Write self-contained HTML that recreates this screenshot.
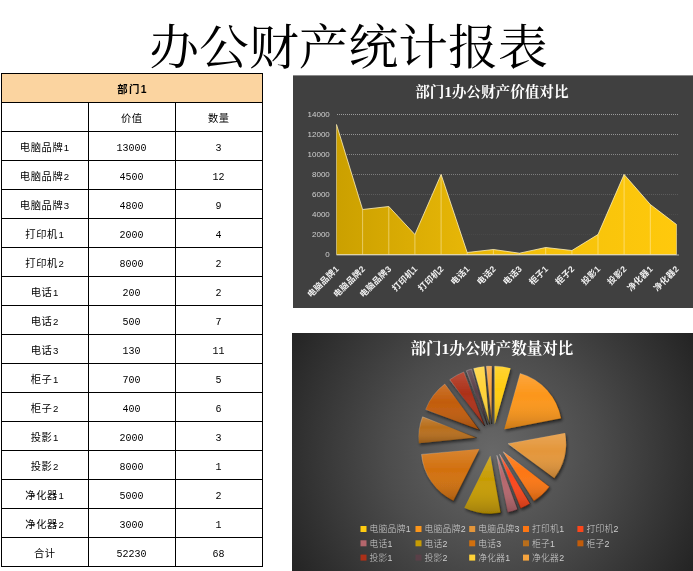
<!DOCTYPE html>
<html lang="zh-CN"><head><meta charset="utf-8"><title>办公财产统计报表</title>
<style>
html,body{margin:0;padding:0;background:#fff}
body{width:693px;height:571px;position:relative;overflow:hidden;font-family:"Liberation Sans","Noto Sans CJK SC",sans-serif}
.ttl{position:absolute;left:0;top:13px;width:697px;text-align:center;transform:scaleY(0.955);transform-origin:50% 50%;font-family:"Liberation Serif","Noto Serif CJK SC",serif;font-size:49.8px;line-height:72px;height:72px;color:#000;font-weight:400;white-space:nowrap}
.c{position:absolute;text-align:center;font-size:10.3px;letter-spacing:0.55px;font-weight:400;color:#000;padding:1.3px 0 0 0.6px;box-sizing:border-box;white-space:nowrap;overflow:hidden}
.c.n{font-family:"Liberation Mono",monospace;font-size:10px;letter-spacing:0;font-weight:400;padding:2.4px 0 0 0}
.c.b{font-weight:bold;font-size:10.4px;letter-spacing:1.3px;padding:0.5px 0 0 2px}
.d{font-size:9.6px;padding-left:0.6px}
.hd{position:absolute;background:#fbd4a0}
.l{position:absolute;background:#000}
.ch{position:absolute;display:block}
.ya{font-family:"Liberation Sans",sans-serif;font-size:8px;fill:#d0d0d0}
.xa{font-family:"Liberation Sans","Noto Sans CJK SC",sans-serif;font-size:8.6px;letter-spacing:0.3px;font-weight:bold;fill:#f0f0f0}
.t1{font-family:"Liberation Serif","Noto Serif CJK SC",serif;font-size:14.6px;font-weight:bold;fill:#fff}
.t2{font-family:"Liberation Serif","Noto Serif CJK SC",serif;font-size:15.5px;font-weight:bold;fill:#fff}
.lg{font-family:"Liberation Sans","Noto Sans CJK SC",sans-serif;font-size:8.8px;letter-spacing:0.25px;font-weight:300;fill:#cdcdcd}
</style></head><body>
<div class="ttl">办公财产统计报表</div>
<div class="hd" style="left:1px;top:73px;width:261px;height:29px"></div><div class="c b" style="left:1px;top:73px;width:261px;height:29px;line-height:32px">部门1</div><div class="c " style="left:88px;top:102px;width:87px;height:29px;line-height:32px">价值</div><div class="c " style="left:175px;top:102px;width:87px;height:29px;line-height:32px">数量</div><div class="c " style="left:1px;top:131px;width:87px;height:29px;line-height:32px">电脑品牌<span class="d">1</span></div><div class="c n" style="left:88px;top:131px;width:87px;height:29px;line-height:32px">13000</div><div class="c n" style="left:175px;top:131px;width:87px;height:29px;line-height:32px">3</div><div class="c " style="left:1px;top:160px;width:87px;height:29px;line-height:32px">电脑品牌<span class="d">2</span></div><div class="c n" style="left:88px;top:160px;width:87px;height:29px;line-height:32px">4500</div><div class="c n" style="left:175px;top:160px;width:87px;height:29px;line-height:32px">12</div><div class="c " style="left:1px;top:189px;width:87px;height:29px;line-height:32px">电脑品牌<span class="d">3</span></div><div class="c n" style="left:88px;top:189px;width:87px;height:29px;line-height:32px">4800</div><div class="c n" style="left:175px;top:189px;width:87px;height:29px;line-height:32px">9</div><div class="c " style="left:1px;top:218px;width:87px;height:29px;line-height:32px">打印机<span class="d">1</span></div><div class="c n" style="left:88px;top:218px;width:87px;height:29px;line-height:32px">2000</div><div class="c n" style="left:175px;top:218px;width:87px;height:29px;line-height:32px">4</div><div class="c " style="left:1px;top:247px;width:87px;height:29px;line-height:32px">打印机<span class="d">2</span></div><div class="c n" style="left:88px;top:247px;width:87px;height:29px;line-height:32px">8000</div><div class="c n" style="left:175px;top:247px;width:87px;height:29px;line-height:32px">2</div><div class="c " style="left:1px;top:276px;width:87px;height:29px;line-height:32px">电话<span class="d">1</span></div><div class="c n" style="left:88px;top:276px;width:87px;height:29px;line-height:32px">200</div><div class="c n" style="left:175px;top:276px;width:87px;height:29px;line-height:32px">2</div><div class="c " style="left:1px;top:305px;width:87px;height:29px;line-height:32px">电话<span class="d">2</span></div><div class="c n" style="left:88px;top:305px;width:87px;height:29px;line-height:32px">500</div><div class="c n" style="left:175px;top:305px;width:87px;height:29px;line-height:32px">7</div><div class="c " style="left:1px;top:334px;width:87px;height:29px;line-height:32px">电话<span class="d">3</span></div><div class="c n" style="left:88px;top:334px;width:87px;height:29px;line-height:32px">130</div><div class="c n" style="left:175px;top:334px;width:87px;height:29px;line-height:32px">11</div><div class="c " style="left:1px;top:363px;width:87px;height:29px;line-height:32px">柜子<span class="d">1</span></div><div class="c n" style="left:88px;top:363px;width:87px;height:29px;line-height:32px">700</div><div class="c n" style="left:175px;top:363px;width:87px;height:29px;line-height:32px">5</div><div class="c " style="left:1px;top:392px;width:87px;height:29px;line-height:32px">柜子<span class="d">2</span></div><div class="c n" style="left:88px;top:392px;width:87px;height:29px;line-height:32px">400</div><div class="c n" style="left:175px;top:392px;width:87px;height:29px;line-height:32px">6</div><div class="c " style="left:1px;top:421px;width:87px;height:29px;line-height:32px">投影<span class="d">1</span></div><div class="c n" style="left:88px;top:421px;width:87px;height:29px;line-height:32px">2000</div><div class="c n" style="left:175px;top:421px;width:87px;height:29px;line-height:32px">3</div><div class="c " style="left:1px;top:450px;width:87px;height:29px;line-height:32px">投影<span class="d">2</span></div><div class="c n" style="left:88px;top:450px;width:87px;height:29px;line-height:32px">8000</div><div class="c n" style="left:175px;top:450px;width:87px;height:29px;line-height:32px">1</div><div class="c " style="left:1px;top:479px;width:87px;height:29px;line-height:32px">净化器<span class="d">1</span></div><div class="c n" style="left:88px;top:479px;width:87px;height:29px;line-height:32px">5000</div><div class="c n" style="left:175px;top:479px;width:87px;height:29px;line-height:32px">2</div><div class="c " style="left:1px;top:508px;width:87px;height:29px;line-height:32px">净化器<span class="d">2</span></div><div class="c n" style="left:88px;top:508px;width:87px;height:29px;line-height:32px">3000</div><div class="c n" style="left:175px;top:508px;width:87px;height:29px;line-height:32px">1</div><div class="c " style="left:1px;top:537px;width:87px;height:29px;line-height:32px">合计</div><div class="c n" style="left:88px;top:537px;width:87px;height:29px;line-height:32px">52230</div><div class="c n" style="left:175px;top:537px;width:87px;height:29px;line-height:32px">68</div>
<div class="l" style="left:1px;top:73px;width:262px;height:1px"></div><div class="l" style="left:1px;top:102px;width:262px;height:1px"></div><div class="l" style="left:1px;top:131px;width:262px;height:1px"></div><div class="l" style="left:1px;top:160px;width:262px;height:1px"></div><div class="l" style="left:1px;top:189px;width:262px;height:1px"></div><div class="l" style="left:1px;top:218px;width:262px;height:1px"></div><div class="l" style="left:1px;top:247px;width:262px;height:1px"></div><div class="l" style="left:1px;top:276px;width:262px;height:1px"></div><div class="l" style="left:1px;top:305px;width:262px;height:1px"></div><div class="l" style="left:1px;top:334px;width:262px;height:1px"></div><div class="l" style="left:1px;top:363px;width:262px;height:1px"></div><div class="l" style="left:1px;top:392px;width:262px;height:1px"></div><div class="l" style="left:1px;top:421px;width:262px;height:1px"></div><div class="l" style="left:1px;top:450px;width:262px;height:1px"></div><div class="l" style="left:1px;top:479px;width:262px;height:1px"></div><div class="l" style="left:1px;top:508px;width:262px;height:1px"></div><div class="l" style="left:1px;top:537px;width:262px;height:1px"></div><div class="l" style="left:1px;top:566px;width:262px;height:1px"></div><div class="l" style="left:1px;top:73px;width:1px;height:494px"></div><div class="l" style="left:262px;top:73px;width:1px;height:494px"></div><div class="l" style="left:88px;top:102px;width:1px;height:465px"></div><div class="l" style="left:175px;top:102px;width:1px;height:465px"></div>
<svg class="ch" style="left:293px;top:75px" width="400" height="233" viewBox="0 0 400 233"><defs><linearGradient id="ag" x1="0" y1="0" x2="1" y2="0"><stop offset="0" stop-color="#cba000"/><stop offset="0.55" stop-color="#f3c00a"/><stop offset="1" stop-color="#ffc90c"/></linearGradient></defs><rect width="400" height="233" fill="#404040"/><rect width="400" height="1" fill="#8a8a8a"/><line x1="43.5" y1="159.5" x2="386" y2="159.5" stroke="#e6e6e6" stroke-opacity="0.05" stroke-width="1" stroke-dasharray="1 1" shape-rendering="crispEdges"/><line x1="43.5" y1="139.5" x2="386" y2="139.5" stroke="#e6e6e6" stroke-opacity="0.07" stroke-width="1" stroke-dasharray="1 1" shape-rendering="crispEdges"/><line x1="43.5" y1="119.5" x2="386" y2="119.5" stroke="#e6e6e6" stroke-opacity="0.17" stroke-width="1" stroke-dasharray="1 1" shape-rendering="crispEdges"/><line x1="43.5" y1="99.5" x2="386" y2="99.5" stroke="#e6e6e6" stroke-opacity="0.36" stroke-width="1" stroke-dasharray="1 1" shape-rendering="crispEdges"/><line x1="43.5" y1="79.5" x2="386" y2="79.5" stroke="#e6e6e6" stroke-opacity="0.42" stroke-width="1" stroke-dasharray="1 1" shape-rendering="crispEdges"/><line x1="43.5" y1="59.5" x2="386" y2="59.5" stroke="#e6e6e6" stroke-opacity="0.5" stroke-width="1" stroke-dasharray="1 1" shape-rendering="crispEdges"/><line x1="43.5" y1="39.5" x2="386" y2="39.5" stroke="#e6e6e6" stroke-opacity="0.55" stroke-width="1" stroke-dasharray="1 1" shape-rendering="crispEdges"/><polygon points="43.5,179.5 43.5,49.5 69.6,134.5 95.8,131.5 121.9,159.5 148.1,99.5 174.2,177.5 200.4,174.5 226.5,178.2 252.7,172.5 278.9,175.5 305.0,159.5 331.1,99.5 357.3,129.5 383.5,149.5 383.5,179.5" fill="url(#ag)"/><line x1="43.5" y1="49.5" x2="43.5" y2="179.5" stroke="#fff3c4" stroke-opacity="0.5" stroke-width="1"/><line x1="69.6" y1="134.5" x2="69.6" y2="179.5" stroke="#fff3c4" stroke-opacity="0.5" stroke-width="1"/><line x1="95.8" y1="131.5" x2="95.8" y2="179.5" stroke="#fff3c4" stroke-opacity="0.5" stroke-width="1"/><line x1="121.9" y1="159.5" x2="121.9" y2="179.5" stroke="#fff3c4" stroke-opacity="0.5" stroke-width="1"/><line x1="148.1" y1="99.5" x2="148.1" y2="179.5" stroke="#fff3c4" stroke-opacity="0.5" stroke-width="1"/><line x1="174.2" y1="177.5" x2="174.2" y2="179.5" stroke="#fff3c4" stroke-opacity="0.5" stroke-width="1"/><line x1="200.4" y1="174.5" x2="200.4" y2="179.5" stroke="#fff3c4" stroke-opacity="0.5" stroke-width="1"/><line x1="226.5" y1="178.2" x2="226.5" y2="179.5" stroke="#fff3c4" stroke-opacity="0.5" stroke-width="1"/><line x1="252.7" y1="172.5" x2="252.7" y2="179.5" stroke="#fff3c4" stroke-opacity="0.5" stroke-width="1"/><line x1="278.9" y1="175.5" x2="278.9" y2="179.5" stroke="#fff3c4" stroke-opacity="0.5" stroke-width="1"/><line x1="305.0" y1="159.5" x2="305.0" y2="179.5" stroke="#fff3c4" stroke-opacity="0.5" stroke-width="1"/><line x1="331.1" y1="99.5" x2="331.1" y2="179.5" stroke="#fff3c4" stroke-opacity="0.5" stroke-width="1"/><line x1="357.3" y1="129.5" x2="357.3" y2="179.5" stroke="#fff3c4" stroke-opacity="0.5" stroke-width="1"/><line x1="383.5" y1="149.5" x2="383.5" y2="179.5" stroke="#fff3c4" stroke-opacity="0.5" stroke-width="1"/><polyline points="43.5,49.5 69.6,134.5 95.8,131.5 121.9,159.5 148.1,99.5 174.2,177.5 200.4,174.5 226.5,178.2 252.7,172.5 278.9,175.5 305.0,159.5 331.1,99.5 357.3,129.5 383.5,149.5" fill="none" stroke="#fff0b8" stroke-opacity="0.8" stroke-width="1"/><line x1="43.5" y1="180.0" x2="386" y2="180.0" stroke="#c8c8c8" stroke-opacity="0.75" stroke-width="1"/><line x1="43.5" y1="179.5" x2="383.5" y2="179.5" stroke="#fff0b8" stroke-opacity="0.7" stroke-width="1"/><text class="ya" x="36.8" y="182.2" text-anchor="end">0</text><text class="ya" x="36.8" y="162.2" text-anchor="end">2000</text><text class="ya" x="36.8" y="142.2" text-anchor="end">4000</text><text class="ya" x="36.8" y="122.2" text-anchor="end">6000</text><text class="ya" x="36.8" y="102.2" text-anchor="end">8000</text><text class="ya" x="36.8" y="82.2" text-anchor="end">10000</text><text class="ya" x="36.8" y="62.2" text-anchor="end">12000</text><text class="ya" x="36.8" y="42.2" text-anchor="end">14000</text><text class="xa" text-anchor="end" transform="translate(46.7,194.3) rotate(-45)">电脑品牌1</text><text class="xa" text-anchor="end" transform="translate(72.8,194.3) rotate(-45)">电脑品牌2</text><text class="xa" text-anchor="end" transform="translate(99.0,194.3) rotate(-45)">电脑品牌3</text><text class="xa" text-anchor="end" transform="translate(125.1,194.3) rotate(-45)">打印机1</text><text class="xa" text-anchor="end" transform="translate(151.3,194.3) rotate(-45)">打印机2</text><text class="xa" text-anchor="end" transform="translate(177.4,194.3) rotate(-45)">电话1</text><text class="xa" text-anchor="end" transform="translate(203.6,194.3) rotate(-45)">电话2</text><text class="xa" text-anchor="end" transform="translate(229.7,194.3) rotate(-45)">电话3</text><text class="xa" text-anchor="end" transform="translate(255.9,194.3) rotate(-45)">柜子1</text><text class="xa" text-anchor="end" transform="translate(282.1,194.3) rotate(-45)">柜子2</text><text class="xa" text-anchor="end" transform="translate(308.2,194.3) rotate(-45)">投影1</text><text class="xa" text-anchor="end" transform="translate(334.3,194.3) rotate(-45)">投影2</text><text class="xa" text-anchor="end" transform="translate(360.5,194.3) rotate(-45)">净化器1</text><text class="xa" text-anchor="end" transform="translate(386.7,194.3) rotate(-45)">净化器2</text><text class="t1" x="198.9" y="21.5" text-anchor="middle">部门1办公财产价值对比</text></svg>
<svg class="ch" style="left:292px;top:333px" width="401" height="238" viewBox="0 0 401 238"><defs><radialGradient id="bg" gradientUnits="userSpaceOnUse" cx="200" cy="120" r="235"><stop offset="0" stop-color="#686868"/><stop offset="0.45" stop-color="#4c4c4c"/><stop offset="1" stop-color="#232323"/></radialGradient><linearGradient id="sh" x1="0" y1="0" x2="0" y2="1"><stop offset="0" stop-color="#fff" stop-opacity="0.15"/><stop offset="0.4" stop-color="#fff" stop-opacity="0"/><stop offset="1" stop-color="#000" stop-opacity="0.2"/></linearGradient><linearGradient id="eg" x1="0" y1="0" x2="1" y2="1"><stop offset="0" stop-color="#fff" stop-opacity="0.3"/><stop offset="0.5" stop-color="#fff" stop-opacity="0"/><stop offset="0.5" stop-color="#000" stop-opacity="0"/><stop offset="1" stop-color="#000" stop-opacity="0.45"/></linearGradient><filter id="ds" x="-30%" y="-30%" width="160%" height="160%"><feGaussianBlur in="SourceAlpha" stdDeviation="1.6"/><feOffset dx="1.2" dy="1.8"/><feComponentTransfer><feFuncA type="linear" slope="0.55"/></feComponentTransfer><feMerge><feMergeNode/><feMergeNode in="SourceGraphic"/></feMerge></filter></defs><rect width="401" height="238" fill="url(#bg)"/><g filter="url(#ds)"><path d="M202.71,91.15 L202.71,33.15 A58,58 0 0 1 218.58,35.37 Z" fill="#ffcc10"/><path d="M202.71,91.15 L202.71,33.15 A58,58 0 0 1 218.58,35.37 Z" fill="url(#sh)" stroke="url(#eg)" stroke-width="0.9" stroke-linejoin="round"/></g><g filter="url(#ds)"><path d="M212.32,96.22 L228.20,40.43 A58,58 0 0 1 269.34,85.56 Z" fill="#fc961a"/><path d="M212.32,96.22 L228.20,40.43 A58,58 0 0 1 269.34,85.56 Z" fill="url(#sh)" stroke="url(#eg)" stroke-width="0.9" stroke-linejoin="round"/></g><g filter="url(#ds)"><path d="M216.08,110.66 L273.09,100.01 A58,58 0 0 1 262.36,145.62 Z" fill="#e4963a"/><path d="M216.08,110.66 L273.09,100.01 A58,58 0 0 1 262.36,145.62 Z" fill="url(#sh)" stroke="url(#eg)" stroke-width="0.9" stroke-linejoin="round"/></g><g filter="url(#ds)"><path d="M211.28,118.82 L257.56,153.78 A58,58 0 0 1 241.81,168.14 Z" fill="#fd7612"/><path d="M211.28,118.82 L257.56,153.78 A58,58 0 0 1 241.81,168.14 Z" fill="url(#sh)" stroke="url(#eg)" stroke-width="0.9" stroke-linejoin="round"/></g><g filter="url(#ds)"><path d="M207.63,121.32 L238.16,170.64 A58,58 0 0 1 228.58,175.41 Z" fill="#fc461a"/><path d="M207.63,121.32 L238.16,170.64 A58,58 0 0 1 228.58,175.41 Z" fill="url(#sh)" stroke="url(#eg)" stroke-width="0.9" stroke-linejoin="round"/></g><g filter="url(#ds)"><path d="M204.88,122.39 L225.83,176.47 A58,58 0 0 1 215.54,179.40 Z" fill="#b5666c"/><path d="M204.88,122.39 L225.83,176.47 A58,58 0 0 1 215.54,179.40 Z" fill="url(#sh)" stroke="url(#eg)" stroke-width="0.9" stroke-linejoin="round"/></g><g filter="url(#ds)"><path d="M198.29,122.85 L208.95,179.86 A58,58 0 0 1 172.44,174.77 Z" fill="#c79c04"/><path d="M198.29,122.85 L208.95,179.86 A58,58 0 0 1 172.44,174.77 Z" fill="url(#sh)" stroke="url(#eg)" stroke-width="0.9" stroke-linejoin="round"/></g><g filter="url(#ds)"><path d="M187.30,116.04 L161.45,167.96 A58,58 0 0 1 129.55,121.39 Z" fill="#d2700e"/><path d="M187.30,116.04 L161.45,167.96 A58,58 0 0 1 129.55,121.39 Z" fill="url(#sh)" stroke="url(#eg)" stroke-width="0.9" stroke-linejoin="round"/></g><g filter="url(#ds)"><path d="M184.65,104.79 L126.90,110.14 A58,58 0 0 1 130.57,83.84 Z" fill="#b86e1c"/><path d="M184.65,104.79 L126.90,110.14 A58,58 0 0 1 130.57,83.84 Z" fill="url(#sh)" stroke="url(#eg)" stroke-width="0.9" stroke-linejoin="round"/></g><g filter="url(#ds)"><path d="M187.73,97.36 L133.65,76.41 A58,58 0 0 1 152.78,51.07 Z" fill="#c25c0a"/><path d="M187.73,97.36 L133.65,76.41 A58,58 0 0 1 152.78,51.07 Z" fill="url(#sh)" stroke="url(#eg)" stroke-width="0.9" stroke-linejoin="round"/></g><g filter="url(#ds)"><path d="M192.71,93.02 L157.76,46.74 A58,58 0 0 1 171.76,38.94 Z" fill="#ac3018"/><path d="M192.71,93.02 L157.76,46.74 A58,58 0 0 1 171.76,38.94 Z" fill="url(#sh)" stroke="url(#eg)" stroke-width="0.9" stroke-linejoin="round"/></g><g filter="url(#ds)"><path d="M195.42,91.83 L174.46,37.75 A58,58 0 0 1 179.54,36.04 Z" fill="#5a4048"/><path d="M195.42,91.83 L174.46,37.75 A58,58 0 0 1 179.54,36.04 Z" fill="url(#sh)" stroke="url(#eg)" stroke-width="0.9" stroke-linejoin="round"/></g><g filter="url(#ds)"><path d="M197.56,91.27 L181.69,35.49 A58,58 0 0 1 192.21,33.52 Z" fill="#ffd238"/><path d="M197.56,91.27 L181.69,35.49 A58,58 0 0 1 192.21,33.52 Z" fill="url(#sh)" stroke="url(#eg)" stroke-width="0.9" stroke-linejoin="round"/></g><g filter="url(#ds)"><path d="M199.76,91.02 L194.41,33.26 A58,58 0 0 1 199.76,33.02 Z" fill="#f6a43e"/><path d="M199.76,91.02 L194.41,33.26 A58,58 0 0 1 199.76,33.02 Z" fill="url(#sh)" stroke="url(#eg)" stroke-width="0.9" stroke-linejoin="round"/></g><rect x="68.5" y="193.0" width="6" height="6" fill="#ffcc10"/><text class="lg" x="77.5" y="199.3">电脑品牌1</text><rect x="123.5" y="193.0" width="6" height="6" fill="#fc961a"/><text class="lg" x="132.5" y="199.3">电脑品牌2</text><rect x="177.2" y="193.0" width="6" height="6" fill="#e4963a"/><text class="lg" x="186.2" y="199.3">电脑品牌3</text><rect x="231.0" y="193.0" width="6" height="6" fill="#fd7612"/><text class="lg" x="240.0" y="199.3">打印机1</text><rect x="285.4" y="193.0" width="6" height="6" fill="#fc461a"/><text class="lg" x="294.4" y="199.3">打印机2</text><rect x="68.5" y="207.3" width="6" height="6" fill="#b5666c"/><text class="lg" x="77.5" y="213.6">电话1</text><rect x="123.5" y="207.3" width="6" height="6" fill="#c79c04"/><text class="lg" x="132.5" y="213.6">电话2</text><rect x="177.2" y="207.3" width="6" height="6" fill="#d2700e"/><text class="lg" x="186.2" y="213.6">电话3</text><rect x="231.0" y="207.3" width="6" height="6" fill="#b86e1c"/><text class="lg" x="240.0" y="213.6">柜子1</text><rect x="285.4" y="207.3" width="6" height="6" fill="#c25c0a"/><text class="lg" x="294.4" y="213.6">柜子2</text><rect x="68.5" y="221.6" width="6" height="6" fill="#ac3018"/><text class="lg" x="77.5" y="227.9">投影1</text><rect x="123.5" y="221.6" width="6" height="6" fill="#5a4048"/><text class="lg" x="132.5" y="227.9">投影2</text><rect x="177.2" y="221.6" width="6" height="6" fill="#ffd238"/><text class="lg" x="186.2" y="227.9">净化器1</text><rect x="231.0" y="221.6" width="6" height="6" fill="#f6a43e"/><text class="lg" x="240.0" y="227.9">净化器2</text><text class="t2" x="199.9" y="21" text-anchor="middle">部门1办公财产数量对比</text></svg>
</body></html>
